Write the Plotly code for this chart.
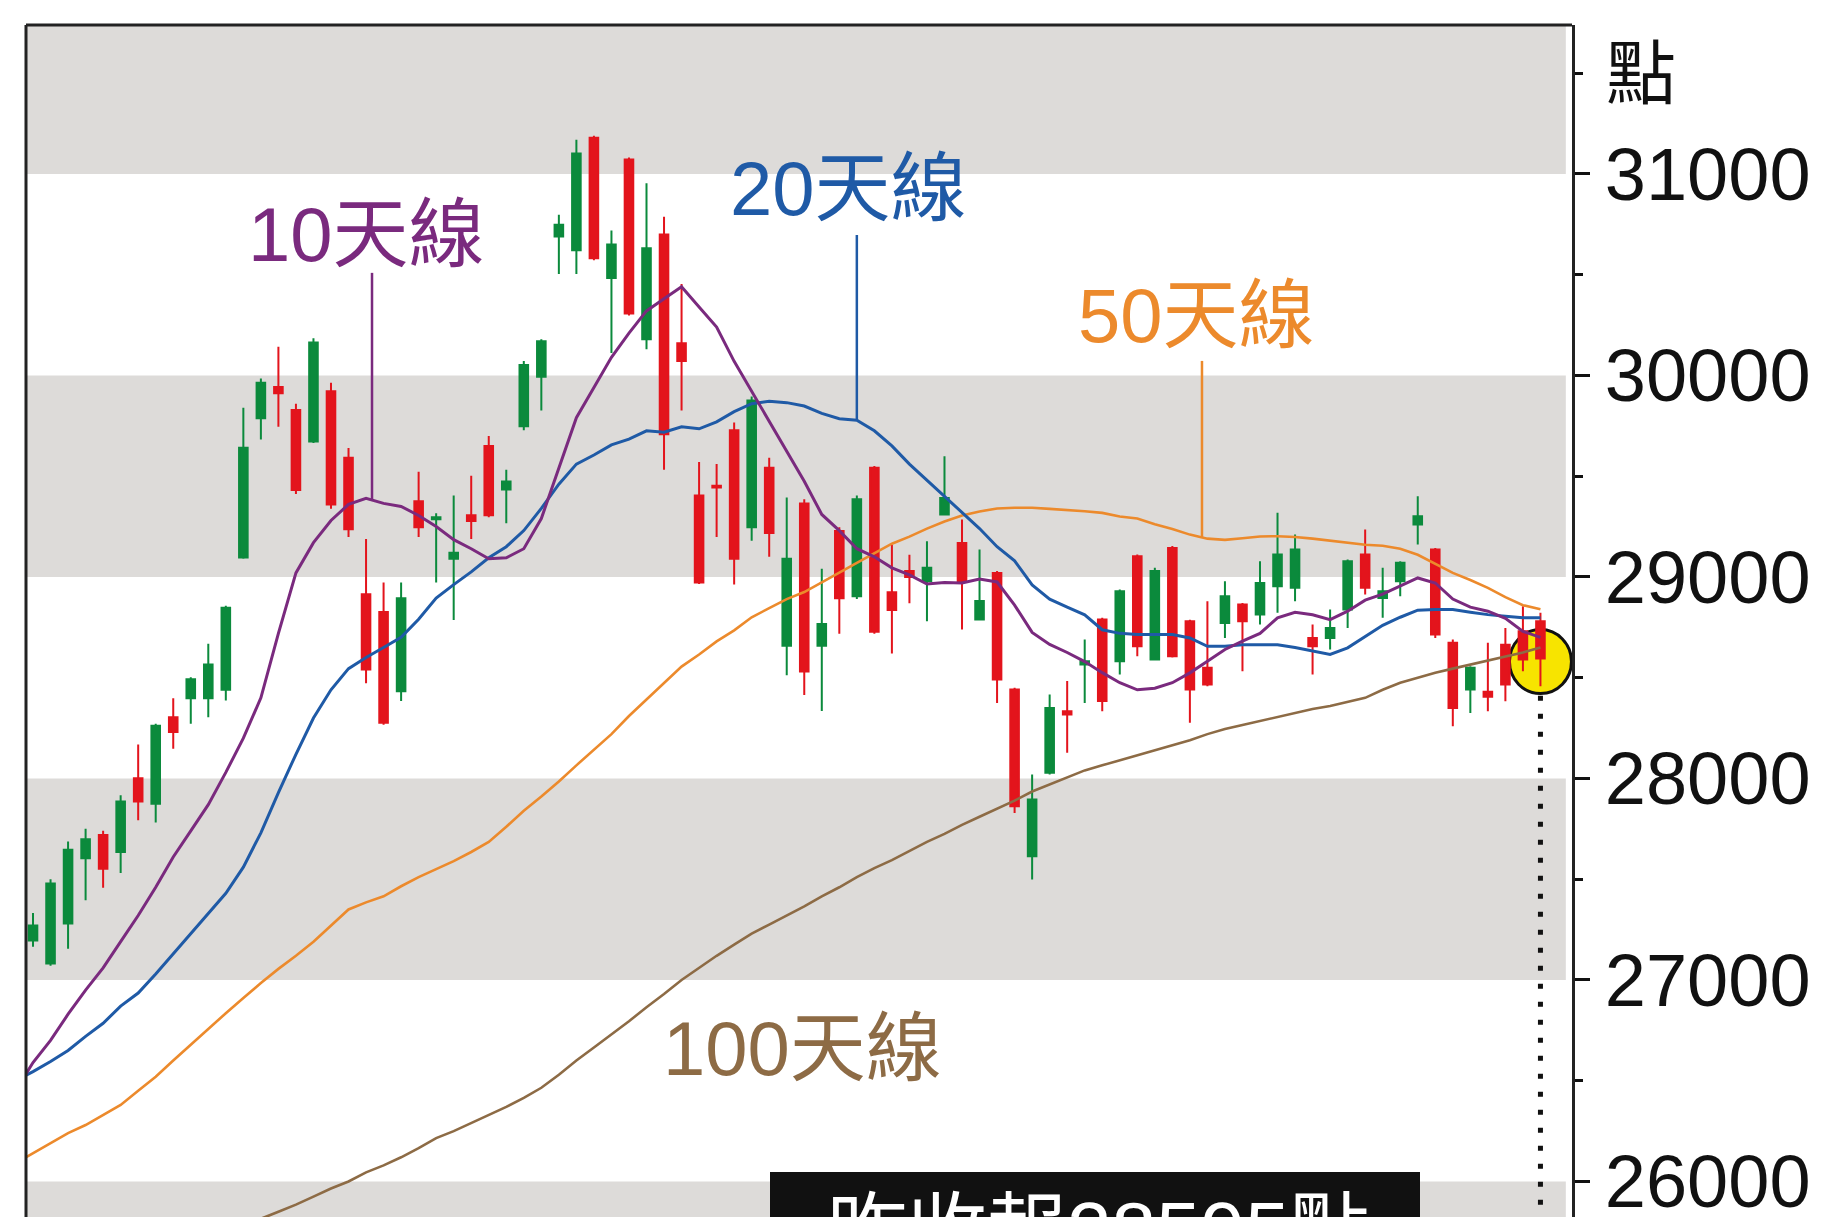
import numpy as np
import plotly.graph_objects as go

# ---------------- data ----------------
days = list(range(1, 88))
open_ = [27196, 27082, 27280, 27604, 27719, 27635, 28001, 27875, 28304, 28398,
         28398, 28440, 29097, 29787, 29943, 29829, 29672, 29922, 29591, 28914,
         28826, 28433, 29375, 29286, 29090, 29306, 29650, 29434, 29748, 29993,
         30689, 30621, 31180, 30483, 31072, 30179, 30699, 30160, 29404, 29453,
         29728, 29247, 29542, 28659, 29365, 28659, 29228, 28904, 29542, 28924,
         29030, 28979, 29310, 29169, 28789, 29020, 28441, 27614, 28028, 28334,
         28565, 28789, 28582, 29103, 28590, 29144, 28780, 28549, 28772, 28863,
         28813, 28954, 28946, 28697, 28697, 28838, 29111, 28896, 28979, 29260,
         29136, 28673, 28441, 28430, 28664, 28731, 28780]
high = [27332, 27500, 27687, 27750, 27740, 27917, 28168, 28272, 28398, 28502,
        28669, 28857, 29839, 29985, 30142, 29860, 30184, 29964, 29640, 29188,
        28973, 28973, 29522, 29316, 29404, 29502, 29699, 29532, 30071, 30179,
        30797, 31170, 31190, 30719, 31082, 30954, 30787, 30454, 29571, 29561,
        29767, 29895, 29591, 29394, 29385, 29041, 29247, 29404, 29551, 29159,
        29110, 29177, 29599, 29285, 29136, 29029, 28450, 28020, 28417, 28483,
        28689, 28797, 28938, 29111, 29045, 29153, 28788, 28879, 28979, 28871,
        29078, 29318, 29210, 28764, 28838, 29086, 29235, 29045, 29078, 29400,
        29144, 28689, 28557, 28673, 28747, 28855, 28822]
low = [27165, 27071, 27155, 27395, 27458, 27531, 27792, 27781, 28147, 28272,
       28304, 28387, 29090, 29682, 29745, 29411, 29665, 29338, 29198, 28472,
       28266, 28384, 29198, 28973, 28786, 29188, 29296, 29267, 29728, 29826,
       30503, 30503, 30572, 30111, 30297, 30130, 29532, 29826, 28965, 29198,
       28963, 29179, 29100, 28512, 28414, 28335, 28718, 28890, 28718, 28620,
       28870, 28780, 29305, 28739, 28785, 28375, 27829, 27499, 28020, 28127,
       28375, 28334, 28516, 28607, 28585, 28600, 28276, 28458, 28697, 28532,
       28764, 28822, 28879, 28516, 28640, 28747, 28913, 28797, 28904, 29161,
       28697, 28259, 28325, 28334, 28383, 28532, 28458]
close = [27270, 27479, 27646, 27698, 27552, 27886, 27886, 28262, 28231, 28492,
         28565, 28847, 29641, 29964, 29912, 29432, 30163, 29359, 29237, 28541,
         28276, 28894, 29247, 29296, 29120, 29277, 29306, 29473, 30052, 30169,
         30748, 31101, 30581, 30650, 30307, 30631, 29708, 30071, 28973, 29444,
         29090, 29875, 29218, 29090, 28531, 28767, 28894, 29385, 28728, 28836,
         29000, 29045, 29392, 28979, 28880, 28491, 27862, 27895, 28350, 28317,
         28582, 28384, 28929, 28656, 29029, 28607, 28441, 28466, 28904, 28780,
         28970, 29111, 29136, 28656, 28747, 29078, 28946, 28929, 29070, 29301,
         28714, 28350, 28549, 28406, 28466, 28590, 28595]

ma_days = list(range(0, 88))
ma10 = [26450, 26590, 26700, 26830, 26950, 27060, 27190, 27320, 27460, 27610,
        27740, 27870, 28030, 28200, 28400, 28720, 29020, 29170, 29280, 29360,
        29390, 29365, 29350, 29305, 29250, 29185, 29140, 29090, 29095, 29140,
        29290, 29540, 29790, 29940, 30090, 30210, 30320, 30380, 30440, 30340,
        30240, 30070, 29920, 29770, 29620, 29475, 29310, 29230, 29140, 29100,
        29045, 29010, 28965, 28972, 28970, 28990, 28975, 28860, 28725, 28665,
        28625, 28580, 28525, 28475, 28440, 28448, 28475, 28524, 28582, 28640,
        28681, 28720, 28797, 28825, 28812, 28788, 28830, 28885, 28915, 28955,
        28995, 28970, 28890, 28850, 28830, 28795, 28730, 28700]
ma20 = [26500, 26545, 26595, 26650, 26720, 26785, 26870, 26935, 27030, 27130,
        27230, 27330, 27430, 27560, 27730, 27930, 28120, 28300, 28440, 28545,
        28600, 28650, 28700, 28790, 28895, 28962, 29025, 29095, 29150, 29230,
        29340, 29460, 29560, 29605, 29655, 29684, 29725, 29718, 29745, 29735,
        29770, 29820, 29860, 29872, 29865, 29848, 29812, 29785, 29778, 29725,
        29650, 29560, 29480, 29395, 29320, 29240, 29150, 29080, 28960, 28890,
        28850, 28812, 28738, 28720, 28714, 28714, 28714, 28697, 28656, 28656,
        28664, 28664, 28664, 28650, 28632, 28615, 28648, 28705, 28760, 28800,
        28835, 28838, 28838, 28825, 28813, 28805, 28797, 28797]
ma50 = [26090, 26140, 26190, 26240, 26280, 26330, 26380, 26450, 26520, 26600,
        26680, 26760, 26835, 26910, 26985, 27055, 27120, 27190, 27270, 27350,
        27385, 27415, 27465, 27510, 27550, 27590, 27635, 27685, 27760, 27840,
        27910, 27985, 28065, 28145, 28220, 28310, 28390, 28470, 28555, 28615,
        28680, 28735, 28800, 28845, 28890, 28925, 28975, 29021, 29070, 29118,
        29165, 29200, 29240, 29275, 29305, 29325, 29340, 29343, 29343, 29338,
        29333, 29326, 29318, 29300, 29290, 29262, 29238, 29210, 29190, 29184,
        29192, 29201, 29202, 29198, 29190, 29180, 29172, 29160, 29155, 29140,
        29110, 29065, 29020, 28985, 28946, 28900, 28860, 28840]
ma100 = [None] * 13 + [
        25770, 25815, 25850, 25885, 25925, 25965, 26000, 26045, 26080, 26120,
        26165, 26215, 26250, 26290, 26330, 26370, 26415, 26465, 26530, 26600,
        26665, 26730, 26795, 26865, 26930, 27000, 27060, 27120, 27175, 27230,
        27275, 27320, 27365, 27415, 27460, 27510, 27555, 27595, 27640, 27685,
        27725, 27770, 27810, 27850, 27890, 27935, 27970, 28005, 28040, 28065,
        28090, 28115, 28140, 28165, 28190, 28220, 28245, 28265, 28285, 28305,
        28325, 28345, 28360, 28380, 28400, 28440, 28475, 28500, 28525, 28545,
        28565, 28585, 28605, 28625, 28650]

y_ticks = [26000, 27000, 28000, 29000, 30000, 31000]
band_ranges = [(31000, 32000), (29000, 30000), (27000, 28000), (25000, 26000)]
last_close = 28595
labels = ["10天線", "20天線", "50天線", "100天線"]
unit_label = "點"
close_text = f"昨收報{last_close}點"

# ---------------- styles ----------------
GREEN = "#0b8a3c"
RED = "#e3141c"
PURPLE = "#7a2a7e"
BLUE = "#1f5aa6"
ORANGE = "#ec8a2c"
BROWN = "#8d6b45"
BAND = "#dddbd9"
FONT = "Liberation Sans, Arial, Noto Sans CJK TC, sans-serif"

W, H = 1821, 1217
L, R, T, B = 18, 257, 17, 0
YMIN, YMAX = 25784, 31739
XMIN, XMAX = 0.6, 88.8


def px_to_paper_x(px):
    return (px - L) / (W - L - R)


def px_to_paper_y(py):
    return (H - B - py) / (H - T - B)


fig = go.Figure()

fig.add_trace(go.Candlestick(
    x=days, open=open_, high=high, low=low, close=close,
    increasing=dict(line=dict(color=GREEN, width=2), fillcolor=GREEN),
    decreasing=dict(line=dict(color=RED, width=2), fillcolor=RED),
    whiskerwidth=0, showlegend=False, hoverinfo="skip"))

for ys, col, wd in [(ma100, BROWN, 2.6), (ma50, ORANGE, 2.6),
                    (ma20, BLUE, 3), (ma10, PURPLE, 3)]:
    fig.add_trace(go.Scatter(x=ma_days, y=ys, mode="lines",
                             line=dict(color=col, width=wd),
                             showlegend=False, hoverinfo="skip"))

shapes = []
for y0, y1 in band_ranges:
    shapes.append(dict(type="rect", xref="paper", yref="y", x0=0, x1=0.996,
                       y0=y0, y1=y1, fillcolor=BAND, line=dict(width=0),
                       layer="below"))
# highlight circle around the last candle
shapes.append(dict(type="circle", xref="x", yref="y", xsizemode="pixel",
                   ysizemode="pixel", xanchor=days[-1], yanchor=28580,
                   x0=-31, x1=31, y0=-32, y1=32, fillcolor="#f7e400",
                   line=dict(color="#111111", width=3), layer="below"))
# dotted drop line
shapes.append(dict(type="line", xref="x", yref="y", x0=days[-1], x1=days[-1],
                   y0=28410, y1=25000,
                   line=dict(color="#111111", width=5, dash="5px,13px")))
# frame (left + top)
shapes.append(dict(type="line", xref="paper", yref="paper", x0=0, x1=0,
                   y0=-0.1, y1=1, line=dict(color="#222222", width=3)))
shapes.append(dict(type="line", xref="paper", yref="paper", x0=0, x1=1,
                   y0=1, y1=1, line=dict(color="#222222", width=3)))

# leader lines from labels to the averages
lead = [(20.34, 30509, np.interp(20.34, ma_days, ma10), PURPLE),
        (48.0, 30697, np.interp(48.0, ma_days, ma20), BLUE),
        (67.69, 30072, np.interp(67.69, ma_days, ma50), ORANGE)]
for x, y0, y1, col in lead:
    shapes.append(dict(type="line", xref="x", yref="y", x0=x, x1=x,
                       y0=y0, y1=float(y1), line=dict(color=col, width=2.5)))

# black close-price box
shapes.append(dict(type="rect", xref="paper", yref="paper",
                   x0=px_to_paper_x(762), x1=px_to_paper_x(1412),
                   y0=-0.2, y1=px_to_paper_y(1164),
                   fillcolor="#111111", line=dict(width=0), layer="above"))

annotations = []
for text, x, y, col in [(labels[0], 20.0, 30697, PURPLE),
                        (labels[1], 47.5, 30930, BLUE),
                        (labels[2], 67.35, 30295, ORANGE),
                        (labels[3], 44.9, 26662, BROWN)]:
    annotations.append(dict(x=x, y=y, xref="x", yref="y", text=text,
                            showarrow=False, xanchor="center", yanchor="middle",
                            font=dict(family=FONT, size=76, color=col)))
annotations.append(dict(x=px_to_paper_x(1633), y=31491, xref="paper", yref="y",
                        text=unit_label, showarrow=False, xanchor="center",
                        yanchor="middle",
                        font=dict(family=FONT, size=70, color="#111111")))
annotations.append(dict(x=px_to_paper_x(1090), y=px_to_paper_y(1222),
                        xref="paper", yref="paper", text=close_text,
                        showarrow=False, xanchor="center", yanchor="middle",
                        font=dict(family=FONT, size=80, color="#ffffff")))

fig.update_layout(
    width=W, height=H, margin=dict(l=L, r=R, t=T, b=B, pad=0),
    paper_bgcolor="white", plot_bgcolor="white",
    shapes=shapes, annotations=annotations, showlegend=False,
    xaxis=dict(range=[XMIN, XMAX], visible=False,
               rangeslider=dict(visible=False), fixedrange=True),
    yaxis=dict(range=[YMIN, YMAX], side="right", tickmode="array",
               tickvals=y_ticks, ticktext=[str(v) for v in y_ticks],
               ticks="outside", ticklen=15, tickwidth=3, tickcolor="#111111",
               showline=True, linewidth=3, linecolor="#222222",
               showgrid=False, zeroline=False, ticklabelstandoff=0,
               automargin=False,
               tickfont=dict(family=FONT, size=74, color="#111111"),
               minor=dict(ticks="outside", ticklen=8, tickwidth=3,
                          tickcolor="#111111",
                          tickvals=[25500, 26500, 27500, 28500, 29500,
                                    30500, 31500])),
)

fig.write_html("out.html")
